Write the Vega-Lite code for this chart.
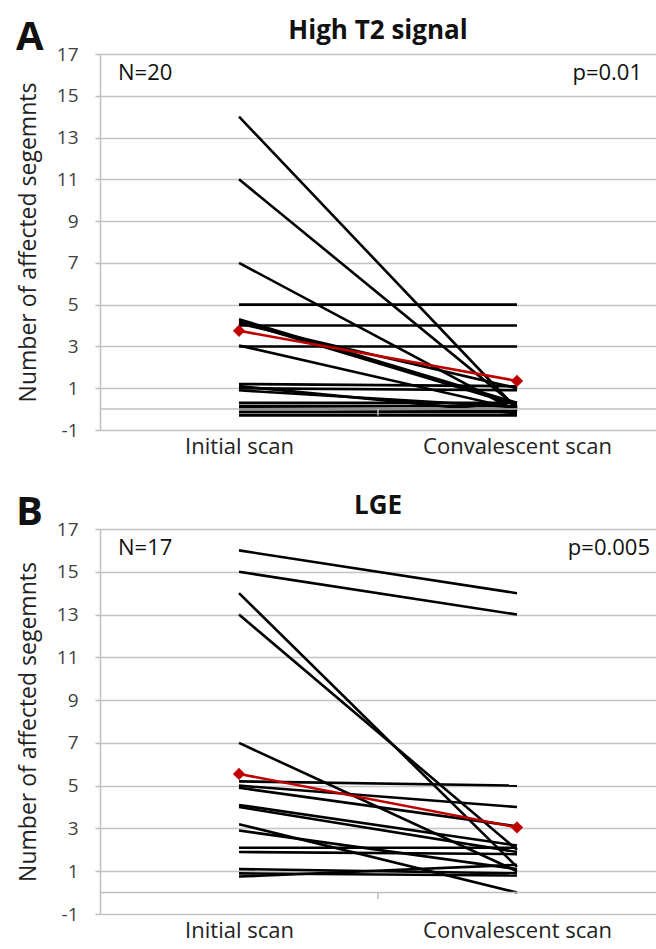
{
  "$schema": "https://vega.github.io/schema/vega-lite/v6.json",
  "background": "white",
  "padding": {"left": 16, "top": 18, "right": 0, "bottom": 0},
  "spacing": 36,
  "config": {
    "font": "Open Sans",
    "view": {"stroke": null},
    "title": {"fontSize": 26, "fontWeight": "bold", "color": "#111", "offset": -26, "anchor": "middle"},
    "axisY": {
      "grid": true, "gridColor": "#c4c4c4", "gridWidth": 1.5,
      "domainColor": "#bfbfbf", "domainWidth": 1.5,
      "tickColor": "#bfbfbf", "tickSize": 5, "tickWidth": 1.5,
      "labelFontSize": 19, "labelColor": "#404040", "labelPadding": 17,
      "labelExpr": "datum.value < 0 ? '-' + abs(datum.value) : datum.label",
      "titleFontSize": 23, "titleFontWeight": "normal", "titleColor": "#222", "titlePadding": 16
    },
    "axisX": {
      "domain": false, "ticks": false, "grid": false, "labelLimit": 0,
      "labelFontSize": 22, "labelColor": "#222", "labelPadding": 6, "labelAngle": 0
    }
  },
  "datasets": {
    "A": [
      {"id": 1, "scan": "Initial scan", "value": 14}, {"id": 1, "scan": "Convalescent scan", "value": 0},
      {"id": 2, "scan": "Initial scan", "value": 11}, {"id": 2, "scan": "Convalescent scan", "value": 0.1},
      {"id": 3, "scan": "Initial scan", "value": 7}, {"id": 3, "scan": "Convalescent scan", "value": -0.1},
      {"id": 4, "scan": "Initial scan", "value": 5}, {"id": 4, "scan": "Convalescent scan", "value": 5},
      {"id": 5, "scan": "Initial scan", "value": 4}, {"id": 5, "scan": "Convalescent scan", "value": 4},
      {"id": 6, "scan": "Initial scan", "value": 4.2}, {"id": 6, "scan": "Convalescent scan", "value": 0.2},
      {"id": 7, "scan": "Initial scan", "value": 4.1}, {"id": 7, "scan": "Convalescent scan", "value": 1},
      {"id": 8, "scan": "Initial scan", "value": 4.3}, {"id": 8, "scan": "Convalescent scan", "value": 0.3},
      {"id": 9, "scan": "Initial scan", "value": 3}, {"id": 9, "scan": "Convalescent scan", "value": 3},
      {"id": 10, "scan": "Initial scan", "value": 3.05}, {"id": 10, "scan": "Convalescent scan", "value": 0},
      {"id": 11, "scan": "Initial scan", "value": 1.2}, {"id": 11, "scan": "Convalescent scan", "value": 1.1},
      {"id": 12, "scan": "Initial scan", "value": 1.0}, {"id": 12, "scan": "Convalescent scan", "value": 0.9},
      {"id": 13, "scan": "Initial scan", "value": 0.9}, {"id": 13, "scan": "Convalescent scan", "value": 0.1},
      {"id": 14, "scan": "Initial scan", "value": 1.1}, {"id": 14, "scan": "Convalescent scan", "value": -0.2},
      {"id": 15, "scan": "Initial scan", "value": 0.3}, {"id": 15, "scan": "Convalescent scan", "value": 0.3},
      {"id": 16, "scan": "Initial scan", "value": 0.15}, {"id": 16, "scan": "Convalescent scan", "value": 0.15},
      {"id": 17, "scan": "Initial scan", "value": 0}, {"id": 17, "scan": "Convalescent scan", "value": 0},
      {"id": 18, "scan": "Initial scan", "value": -0.15}, {"id": 18, "scan": "Convalescent scan", "value": -0.15},
      {"id": 19, "scan": "Initial scan", "value": -0.3}, {"id": 19, "scan": "Convalescent scan", "value": -0.3},
      {"id": 20, "scan": "Initial scan", "value": 0.05}, {"id": 20, "scan": "Convalescent scan", "value": -0.05}
    ],
    "Amean": [
      {"scan": "Initial scan", "value": 3.75}, {"scan": "Convalescent scan", "value": 1.35}
    ],
    "B": [
      {"id": 1, "scan": "Initial scan", "value": 16}, {"id": 1, "scan": "Convalescent scan", "value": 14},
      {"id": 2, "scan": "Initial scan", "value": 15}, {"id": 2, "scan": "Convalescent scan", "value": 13},
      {"id": 3, "scan": "Initial scan", "value": 14}, {"id": 3, "scan": "Convalescent scan", "value": 1.2},
      {"id": 4, "scan": "Initial scan", "value": 13}, {"id": 4, "scan": "Convalescent scan", "value": 2},
      {"id": 5, "scan": "Initial scan", "value": 7}, {"id": 5, "scan": "Convalescent scan", "value": 1},
      {"id": 6, "scan": "Initial scan", "value": 5.2}, {"id": 6, "scan": "Convalescent scan", "value": 5},
      {"id": 7, "scan": "Initial scan", "value": 5.0}, {"id": 7, "scan": "Convalescent scan", "value": 4},
      {"id": 8, "scan": "Initial scan", "value": 4.9}, {"id": 8, "scan": "Convalescent scan", "value": 3.1},
      {"id": 9, "scan": "Initial scan", "value": 4.1}, {"id": 9, "scan": "Convalescent scan", "value": 2.2},
      {"id": 10, "scan": "Initial scan", "value": 4.0}, {"id": 10, "scan": "Convalescent scan", "value": 1.9},
      {"id": 11, "scan": "Initial scan", "value": 3.2}, {"id": 11, "scan": "Convalescent scan", "value": 0},
      {"id": 12, "scan": "Initial scan", "value": 2.9}, {"id": 12, "scan": "Convalescent scan", "value": 1.1},
      {"id": 13, "scan": "Initial scan", "value": 2.1}, {"id": 13, "scan": "Convalescent scan", "value": 2.1},
      {"id": 14, "scan": "Initial scan", "value": 1.9}, {"id": 14, "scan": "Convalescent scan", "value": 1.8},
      {"id": 15, "scan": "Initial scan", "value": 1.1}, {"id": 15, "scan": "Convalescent scan", "value": 0.9},
      {"id": 16, "scan": "Initial scan", "value": 0.9}, {"id": 16, "scan": "Convalescent scan", "value": 0.8},
      {"id": 17, "scan": "Initial scan", "value": 0.75}, {"id": 17, "scan": "Convalescent scan", "value": 1.3}
    ],
    "Bmean": [
      {"scan": "Initial scan", "value": 5.55}, {"scan": "Convalescent scan", "value": 3.05}
    ],
    "Alabels": [
      {"panel": "A", "title": "High T2 signal", "n": "N=20", "p": "p=0.01"}
    ],
    "Blabels": [
      {"panel": "B", "title": "LGE", "n": "N=17", "p": "p=0.005"}
    ]
  },
  "vconcat": [
    {
      "width": 556,
      "height": 376,
      "title": {"text": "High T2 signal"},
      "layer": [
        {"data": {"name": "A"}, "mark": {"type": "line", "color": "black", "strokeWidth": 2.6},
         "encoding": {
           "x": {"field": "scan", "type": "nominal",
                 "scale": {"type": "point", "domain": ["Initial scan", "Convalescent scan"], "padding": 0.5},
                 "axis": {"title": null}},
           "y": {"field": "value", "type": "quantitative",
                 "scale": {"domain": [-1, 17], "nice": false, "zero": false},
                 "axis": {"title": "Number of affected segemnts", "values": [-1, 1, 3, 5, 7, 9, 11, 13, 15, 17]}},
           "detail": {"field": "id"}}},
        {"data": {"name": "Alabels"}, "mark": {"type": "rule", "color": "#bfbfbf", "strokeWidth": 1.5},
         "encoding": {"y": {"datum": 0}}},
        {"data": {"name": "Alabels"}, "mark": {"type": "rule", "color": "#bfbfbf", "strokeWidth": 1.5, "xOffset": 139},
         "encoding": {"x": {"datum": "Initial scan"}, "y": {"datum": 0}, "y2": {"datum": -0.3}}},
        {"data": {"name": "Amean"}, "mark": {"type": "line", "color": "#c00000", "strokeWidth": 2.6,
           "point": {"shape": "diamond", "size": 150, "filled": true, "color": "#c00000"}},
         "encoding": {"x": {"field": "scan", "type": "nominal"}, "y": {"field": "value", "type": "quantitative"}}},
        {"data": {"name": "Alabels"}, "mark": {"type": "text", "fontSize": 22, "align": "left", "dx": -121, "color": "#111"},
         "encoding": {"x": {"datum": "Initial scan"}, "y": {"datum": 16.1}, "text": {"field": "n"}}},
        {"data": {"name": "Alabels"}, "mark": {"type": "text", "fontSize": 22, "align": "right", "dx": 125, "color": "#111"},
         "encoding": {"x": {"datum": "Convalescent scan"}, "y": {"datum": 16.1}, "text": {"field": "p"}}},
        {"data": {"name": "Alabels"}, "mark": {"type": "text", "fontSize": 40, "fontWeight": "bold", "align": "left", "dx": -223, "dy": -4, "baseline": "alphabetic", "color": "#111"},
         "encoding": {"x": {"datum": "Initial scan"}, "y": {"datum": 17}, "text": {"field": "panel"}}}
      ]
    },
    {
      "width": 556,
      "height": 385,
      "title": {"text": "LGE"},
      "layer": [
        {"data": {"name": "B"}, "mark": {"type": "line", "color": "black", "strokeWidth": 2.6},
         "encoding": {
           "x": {"field": "scan", "type": "nominal",
                 "scale": {"type": "point", "domain": ["Initial scan", "Convalescent scan"], "padding": 0.5},
                 "axis": {"title": null}},
           "y": {"field": "value", "type": "quantitative",
                 "scale": {"domain": [-1, 17], "nice": false, "zero": false},
                 "axis": {"title": "Number of affected segemnts", "values": [-1, 1, 3, 5, 7, 9, 11, 13, 15, 17]}},
           "detail": {"field": "id"}}},
        {"data": {"name": "Blabels"}, "mark": {"type": "rule", "color": "#bfbfbf", "strokeWidth": 1.5},
         "encoding": {"y": {"datum": 0}}},
        {"data": {"name": "Blabels"}, "mark": {"type": "rule", "color": "#bfbfbf", "strokeWidth": 1.5, "xOffset": 139},
         "encoding": {"x": {"datum": "Initial scan"}, "y": {"datum": 0}, "y2": {"datum": -0.3}}},
        {"data": {"name": "Bmean"}, "mark": {"type": "line", "color": "#c00000", "strokeWidth": 2.6,
           "point": {"shape": "diamond", "size": 150, "filled": true, "color": "#c00000"}},
         "encoding": {"x": {"field": "scan", "type": "nominal"}, "y": {"field": "value", "type": "quantitative"}}},
        {"data": {"name": "Blabels"}, "mark": {"type": "text", "fontSize": 22, "align": "left", "dx": -121, "color": "#111"},
         "encoding": {"x": {"datum": "Initial scan"}, "y": {"datum": 16.1}, "text": {"field": "n"}}},
        {"data": {"name": "Blabels"}, "mark": {"type": "text", "fontSize": 22, "align": "right", "dx": 133, "color": "#111"},
         "encoding": {"x": {"datum": "Convalescent scan"}, "y": {"datum": 16.1}, "text": {"field": "p"}}},
        {"data": {"name": "Blabels"}, "mark": {"type": "text", "fontSize": 40, "fontWeight": "bold", "align": "left", "dx": -223, "dy": -4, "baseline": "alphabetic", "color": "#111"},
         "encoding": {"x": {"datum": "Initial scan"}, "y": {"datum": 17}, "text": {"field": "panel"}}}
      ]
    }
  ]
}
